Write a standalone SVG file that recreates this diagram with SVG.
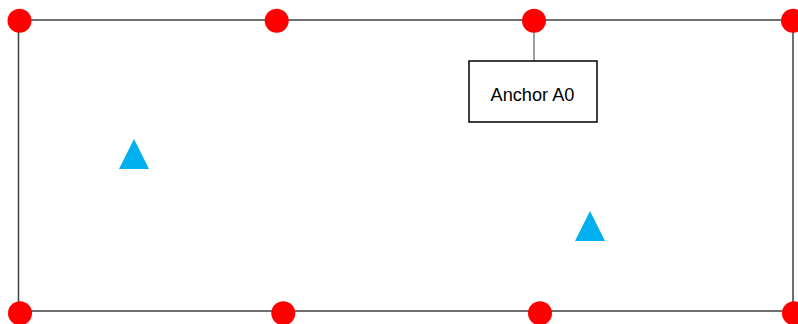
<svg xmlns="http://www.w3.org/2000/svg" width="798" height="324" viewBox="0 0 798 324">
<style>
.frame{fill:none;stroke:#404040;stroke-width:1.5}
.pt{fill:#FF0000}
.tri{fill:#00B0F0}
.box{fill:#FFFFFF;stroke:#000000;stroke-width:1.5}
.conn{stroke:#808080;stroke-width:1.5;fill:none}
.lbl{font-family:"Liberation Sans",Arial,sans-serif;font-size:18.2px;fill:#000000;text-anchor:middle}
</style>
<rect class="frame" x="18.5" y="20" width="774.5" height="291"/>
<g id="connectors">
<line class="conn" x1="534" y1="21" x2="534" y2="61"/>
</g>
<g id="anchor-points">
<circle class="pt" cx="19.5" cy="20.7" r="12"/>
<circle class="pt" cx="276.7" cy="20.7" r="12"/>
<circle class="pt" cx="534" cy="20.7" r="12"/>
<circle class="pt" cx="793" cy="20.7" r="12"/>
<circle class="pt" cx="20" cy="313.3" r="12"/>
<circle class="pt" cx="283.3" cy="313.3" r="12"/>
<circle class="pt" cx="540" cy="313.3" r="12"/>
<circle class="pt" cx="794" cy="313.3" r="12"/>
</g>
<g id="triangle1"><polygon class="tri" points="134,139 119,169 149,169"/></g>
<g id="triangle2"><polygon class="tri" points="590,211 575,241 605,241"/></g>
<g id="anchorA0">
<rect class="box" x="469" y="61" width="128" height="61"/>
<text class="lbl" x="532.5" y="101">Anchor A0</text>
</g>
</svg>
